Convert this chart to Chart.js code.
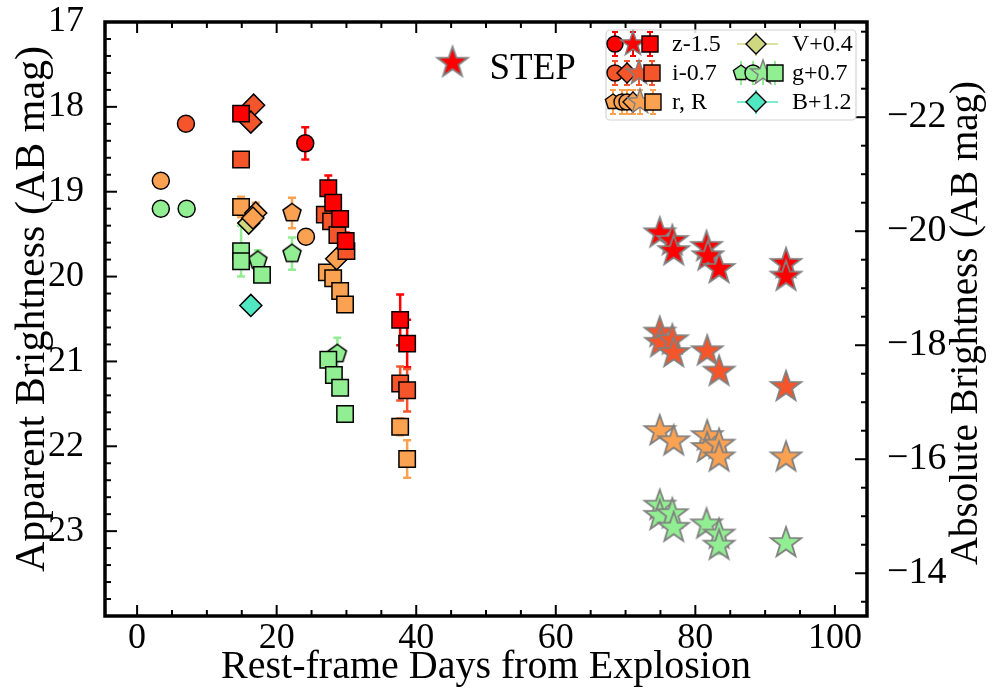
<!DOCTYPE html>
<html>
<head>
<meta charset="utf-8">
<script src="https://cdn.jsdelivr.net/npm/chart.js@4.4.0/dist/chart.umd.min.js"></script>
<style>
  html, body { margin: 0; padding: 0; background: #fff; }
</style>
</head>
<body>
<canvas id="lc" width="1000" height="692"></canvas>
<script>
// [days, mag, error]
const zCircle = [[24.1, 18.43, 0.19]];
const zSquare = [[14.9, 18.08, 0], [27.4, 18.96, 0.15], [28.1, 19.13, 0], [29.1, 19.32, 0], [29.9, 19.58, 0.1], [37.7, 20.51, 0.3], [38.7, 20.79, 0.28]];
const zStar = [[74.9, 19.49], [76.7, 19.58], [76.9, 19.70], [81.6, 19.65], [81.8, 19.76], [83.4, 19.91], [93.0, 19.85], [93.0, 20.00]];
const iCircle = [[7.0, 18.20]];
const iDiamond = [[16.7, 17.98], [16.3, 18.18]];
const iSquare = [[14.9, 18.62], [26.9, 19.27], [27.8, 19.35], [28.7, 19.51], [30.0, 19.70], [37.7, 21.26, 0.2], [38.7, 21.34, 0.25]];
const iStar = [[74.9, 20.66], [75.0, 20.78], [76.7, 20.75], [76.9, 20.90], [81.7, 20.88], [83.4, 21.12], [93.0, 21.30]];
const rCircle = [[3.4, 18.87], [24.2, 19.53]];
const rPentagon = [[22.2, 19.25, 0.18]];
const rDiamond = [[17.0, 19.25, 0.12], [16.6, 19.31], [28.6, 19.79]];
const rSquare = [[14.9, 19.18, 0.12], [27.2, 19.95], [28.1, 20.02], [29.1, 20.17], [29.8, 20.33], [37.7, 21.77, 0.1], [38.7, 22.15, 0.22]];
const rStar = [[74.9, 21.82], [76.9, 21.94], [81.7, 21.88], [81.7, 22.02], [83.4, 21.98], [83.4, 22.13], [93.0, 22.13]];
const vDiamond = [[16.0, 19.37]];
const gCircle = [[3.4, 19.20], [7.1, 19.20]];
const gPentagon = [[17.3, 19.81, 0.12], [22.2, 19.73, 0.19], [28.7, 20.91, 0.19]];
const gSquare = [[14.9, 19.70, 0.3], [14.9, 19.82], [17.9, 19.98], [27.4, 20.98], [28.2, 21.16], [29.1, 21.31], [29.8, 21.62]];
const gStar = [[74.9, 22.70, 0.08], [74.9, 22.82], [76.7, 22.80], [76.9, 22.96], [81.6, 22.92, 0.08], [83.4, 23.04], [83.4, 23.17, 0.1], [93.0, 23.14]];
const bDiamond = [[16.3, 20.34]];
const stepStar = [[45.2, 17.48]];

const xTicks = [0, 20, 40, 60, 80, 100];
const yTicks = [17, 18, 19, 20, 21, 22, 23];
const y2Ticks = [-22, -20, -18, -16, -14];

const legendLabels = ['z-1.5', 'i-0.7', 'r, R', 'V+0.4', 'g+0.7', 'B+1.2'];

const serif = "'Liberation Serif', 'DejaVu Serif', serif";
const colors = { z: '#ff0000', i: '#f4552b', r: '#fba152', v: '#cfd780', g: '#92ee92', b: '#4fe8c3' };

function shapePath(ctx, shape, x, y, s) {
  ctx.beginPath();
  if (shape === 'circle') {
    ctx.arc(x, y, s, 0, Math.PI * 2);
  } else if (shape === 'square') {
    ctx.rect(x - s, y - s, 2 * s, 2 * s);
  } else if (shape === 'diamond') {
    ctx.moveTo(x, y - s); ctx.lineTo(x + s, y); ctx.lineTo(x, y + s); ctx.lineTo(x - s, y);
  } else if (shape === 'pentagon') {
    for (let k = 0; k < 5; k++) {
      const a = -Math.PI / 2 + k * 2 * Math.PI / 5;
      ctx.lineTo(x + s * Math.cos(a), y + s * Math.sin(a));
    }
  } else if (shape === 'star') {
    for (let k = 0; k < 10; k++) {
      const a = -Math.PI / 2 + k * Math.PI / 5;
      const rr = k % 2 === 0 ? s : s * 0.4;
      ctx.lineTo(x + rr * Math.cos(a), y + rr * Math.sin(a));
    }
  }
  ctx.closePath();
}

function drawShape(ctx, shape, x, y, s, fill, stroke, lw) {
  shapePath(ctx, shape, x, y, s);
  ctx.fillStyle = fill;
  ctx.fill();
  ctx.lineWidth = lw;
  ctx.strokeStyle = stroke;
  ctx.lineJoin = 'miter';
  ctx.stroke();
}

function markerCanvas(shape, fill, stroke, s, lw) {
  const size = Math.ceil(2 * (s + lw)) + 2;
  const cv = document.createElement('canvas');
  cv.width = size; cv.height = size;
  drawShape(cv.getContext('2d'), shape, size / 2, size / 2, s, fill, stroke, lw);
  return cv;
}

function series(pts, shape, color, errColor) {
  const ds = {
    data: pts.map(p => ({ x: p[0], y: p[1] })),
    errs: pts.map(p => p[2] || 0),
    errColor: errColor || color,
    backgroundColor: color,
    borderColor: '#000',
    pointBorderWidth: 1.5,
    showLine: false
  };
  if (shape === 'circle') { ds.pointStyle = 'circle'; ds.pointRadius = 8.5; }
  else if (shape === 'square') { ds.pointStyle = 'rect'; ds.pointRadius = 11.6; }
  else if (shape === 'diamond') { ds.pointStyle = 'rectRot'; ds.pointRadius = 11; }
  else if (shape === 'pentagon') { ds.pointStyle = markerCanvas('pentagon', color, '#000', 9.5, 1.5); ds.pointRadius = 10; }
  else if (shape === 'star') { ds.pointStyle = markerCanvas('star', color, '#808080', 16, 1.8); ds.pointRadius = 16; }
  return ds;
}

const datasets = [
  series(stepStar, 'star', colors.z),
  series(zSquare, 'square', colors.z),
  series(zCircle, 'circle', colors.z),
  series(iSquare, 'square', colors.i),
  series(iDiamond, 'diamond', colors.i),
  series(iCircle, 'circle', colors.i),
  series(rDiamond, 'diamond', colors.r),
  series(rSquare, 'square', colors.r),
  series(rPentagon, 'pentagon', colors.r),
  series(rCircle, 'circle', colors.r),
  series(vDiamond, 'diamond', colors.v),
  series(gSquare, 'square', colors.g),
  series(gPentagon, 'pentagon', colors.g),
  series(gCircle, 'circle', colors.g),
  series(bDiamond, 'diamond', colors.b),
  series(zStar, 'star', colors.z),
  series(iStar, 'star', colors.i),
  series(rStar, 'star', colors.r),
  series(gStar, 'star', colors.g)
];

const errorBars = {
  id: 'errorBars',
  beforeDatasetsDraw(chart) {
    const ctx = chart.ctx;
    const xs = chart.scales.x, ys = chart.scales.y;
    ctx.save();
    chart.data.datasets.forEach(ds => {
      ds.data.forEach((p, k) => {
        const e = ds.errs[k];
        if (!e) return;
        const px = xs.getPixelForValue(p.x);
        const y1 = ys.getPixelForValue(p.y - e), y2 = ys.getPixelForValue(p.y + e);
        ctx.strokeStyle = ds.errColor;
        ctx.lineWidth = 2.5;
        ctx.beginPath();
        ctx.moveTo(px, y1); ctx.lineTo(px, y2);
        ctx.moveTo(px - 4, y1); ctx.lineTo(px + 4, y1);
        ctx.moveTo(px - 4, y2); ctx.lineTo(px + 4, y2);
        ctx.stroke();
      });
    });
    ctx.restore();
  }
};

const frameAndExtras = {
  id: 'frameAndExtras',
  afterDatasetsDraw(chart) {
    const ctx = chart.ctx;
    const a = chart.chartArea;
    const xs = chart.scales.x, ys = chart.scales.y, y2s = chart.scales.y2;
    ctx.save();
    ctx.strokeStyle = '#000';

    // inward ticks
    function tick(x1, y1, x2, y2, w) {
      ctx.lineWidth = w;
      ctx.beginPath(); ctx.moveTo(x1, y1); ctx.lineTo(x2, y2); ctx.stroke();
    }
    for (let k = 0; k <= 20; k++) {
      const v = k * 5;
      const px = xs.getPixelForValue(v);
      const major = xTicks.includes(v);
      const len = major ? 11 : 6;
      tick(px, a.bottom, px, a.bottom - len, 2);
      tick(px, a.top, px, a.top + len, 2);
    }
    for (let k = 0; k <= 35; k++) {
      const v = 17 + k * 0.2;
      const py = ys.getPixelForValue(v);
      const major = k % 5 === 0;
      tick(a.left, py, a.left + (major ? 12 : 6), py, 2);
    }
    for (let k = -47; k <= -27; k++) {
      const v = k * 0.5;
      if (v < y2s.min || v > y2s.max) continue;
      const py = y2s.getPixelForValue(v);
      const major = y2Ticks.includes(v);
      tick(a.right, py, a.right - (major ? 12 : 6), py, 2);
    }

    // frame
    ctx.lineWidth = 3.5;
    ctx.strokeRect(a.left, a.top, a.right - a.left, a.bottom - a.top);

    // STEP label next to its star
    const sp = chart.getDatasetMeta(0).data[0];
    ctx.fillStyle = '#000';
    ctx.font = '37px ' + serif;
    ctx.textAlign = 'left';
    ctx.textBaseline = 'middle';
    ctx.fillText('STEP', sp.x + 37, sp.y + 7);

    // y titles
    ctx.font = '42px ' + serif;
    ctx.textAlign = 'center';
    ctx.save();
    ctx.translate(33, (a.top + a.bottom) / 2 - 10);
    ctx.rotate(-Math.PI / 2);
    ctx.fillText('Apparent Brightness (AB mag)', 0, 0);
    ctx.restore();
    ctx.font = '39px ' + serif;
    ctx.save();
    ctx.translate(967, (a.top + a.bottom) / 2 + 4);
    ctx.rotate(-Math.PI / 2);
    ctx.fillText('Absolute Brightness (AB mag)', 0, 0);
    ctx.restore();

    // legend
    const lx = a.right - 261, ly = a.top + 8, lw = 250, lh = 90;
    ctx.fillStyle = 'rgba(255,255,255,0.85)';
    ctx.strokeStyle = '#d4d4d4';
    ctx.lineWidth = 1.2;
    ctx.beginPath();
    ctx.roundRect(lx, ly, lw, lh, 4);
    ctx.fill(); ctx.stroke();

    const rows = [ly + 14, ly + 43, ly + 72];
    const sizes = { circle: 8, square: 8, diamond: 10, pentagon: 8, star: 13 };
    const col1 = [
      { c: colors.z, m: [['circle', 9], ['star', 27], ['square', 44]] },
      { c: colors.i, m: [['circle', 9], ['diamond', 21], ['star', 33], ['square', 46]] },
      { c: colors.r, m: [['pentagon', 7], ['circle', 16], ['circle', 21], ['diamond', 27], ['star', 34], ['square', 47]] }
    ];
    col1.forEach((en, r) => {
      const y = rows[r];
      ctx.strokeStyle = en.c;
      ctx.lineWidth = 2;
      en.m.forEach(([sh, dx]) => {
        const x = lx + dx;
        ctx.beginPath();
        ctx.moveTo(x, y - 12); ctx.lineTo(x, y + 12);
        ctx.moveTo(x - 3, y - 12); ctx.lineTo(x + 3, y - 12);
        ctx.moveTo(x - 3, y + 12); ctx.lineTo(x + 3, y + 12);
        ctx.stroke();
      });
      en.m.forEach(([sh, dx]) => {
        drawShape(ctx, sh, lx + dx, y, sizes[sh], en.c, sh === 'star' ? '#808080' : '#000', 1.4);
      });
    });
    const col2 = [
      { c: colors.v, m: [['diamond', 150]], line: true },
      { c: colors.g, m: [['pentagon', 135], ['circle', 147], ['star', 157], ['square', 169]] },
      { c: colors.b, m: [['diamond', 150]], line: true }
    ];
    col2.forEach((en, r) => {
      const y = rows[r];
      ctx.strokeStyle = en.c;
      ctx.lineWidth = 1.5;
      if (en.line) {
        ctx.beginPath(); ctx.moveTo(lx + 131, y); ctx.lineTo(lx + 172, y); ctx.stroke();
      }
      en.m.forEach(([sh, dx]) => {
        const x = lx + dx;
        ctx.lineWidth = 2;
        ctx.beginPath();
        ctx.moveTo(x, y - 12); ctx.lineTo(x, y + 12);
        ctx.stroke();
      });
      en.m.forEach(([sh, dx]) => {
        drawShape(ctx, sh, lx + dx, y, sizes[sh], en.c, sh === 'star' ? '#808080' : '#000', 1.4);
      });
    });
    ctx.fillStyle = '#000';
    ctx.font = '24px ' + serif;
    ctx.textAlign = 'left';
    ctx.textBaseline = 'middle';
    legendLabels.forEach((t, k) => {
      const r = k % 3;
      const x = k < 3 ? lx + 66 : lx + 186;
      ctx.fillText(t, x, rows[r] + 1);
    });

    ctx.restore();
  }
};

const tickFont = { family: serif, size: 36 };

function noPadY(s, w) { s.width = w; s.paddingTop = 0; s.paddingBottom = 0; }

new Chart(document.getElementById('lc'), {
  type: 'scatter',
  data: { datasets: datasets },
  options: {
    responsive: false,
    animation: false,
    layout: { padding: { top: 22, left: 0, right: 0, bottom: 0 } },
    plugins: { legend: { display: false }, tooltip: { enabled: false } },
    scales: {
      x: {
        type: 'linear', min: -4.6, max: 104.6,
        grid: { display: false }, border: { display: false },
        afterBuildTicks: s => { s.ticks = xTicks.map(v => ({ value: v })); },
        ticks: { font: tickFont, color: '#000', padding: -7, maxRotation: 0 },
        title: { display: true, text: 'Rest-frame Days from Explosion', color: '#000',
                 font: { family: serif, size: 40 }, padding: { top: 0, bottom: 1 } },
        afterFit: s => { s.height = 76; s.paddingLeft = 0; s.paddingRight = 0; }
      },
      y: {
        type: 'linear', position: 'left', reverse: true, min: 17, max: 24,
        grid: { display: false }, border: { display: false },
        afterBuildTicks: s => { s.ticks = yTicks.map(v => ({ value: v })); },
        ticks: { font: tickFont, color: '#000', padding: 13 },
        afterFit: s => noPadY(s, 105)
      },
      y2: {
        type: 'linear', position: 'right', reverse: true, min: -23.67, max: -13.25,
        grid: { display: false }, border: { display: false },
        afterBuildTicks: s => { s.ticks = y2Ticks.map(v => ({ value: v })); },
        ticks: { font: { family: serif, size: 38 }, color: '#000', padding: 12,
                 callback: v => (v < 0 ? '\u2212' : '') + Math.abs(v) },
        afterFit: s => noPadY(s, 133)
      }
    }
  },
  plugins: [errorBars, frameAndExtras]
});
</script>
</body>
</html>
